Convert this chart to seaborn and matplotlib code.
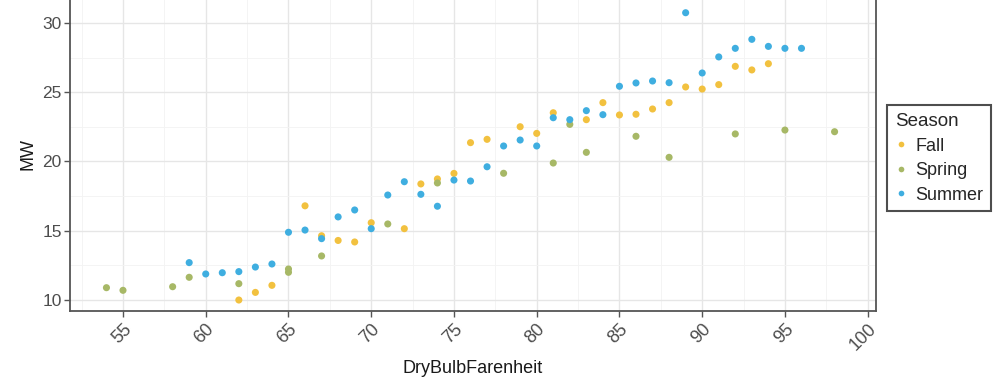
import matplotlib
matplotlib.use("Agg")
import matplotlib.pyplot as plt
import seaborn as sns
import pandas as pd
import numpy as np
from matplotlib.ticker import MultipleLocator

# Hourly load (MW) against dry-bulb temperature, grouped by season
fall_temp = [62, 63, 64, 66, 67, 68, 69, 70, 72, 73, 74, 75, 76, 77, 79, 80,
             81, 83, 84, 85, 86, 87, 88, 89, 90, 91, 92, 93, 94]
fall_mw = [10.0, 10.55, 11.06, 16.8, 14.64, 14.3, 14.19, 15.58, 15.15, 18.38,
           18.74, 19.14, 21.36, 21.6, 22.51, 22.03, 23.52, 23.02, 24.25, 23.36,
           23.41, 23.79, 24.25, 25.38, 25.23, 25.55, 26.87, 26.61, 27.06]

spring_temp = [54, 55, 58, 59, 62, 65, 65, 67, 71, 74, 78, 81, 82, 83, 86, 88,
               92, 95, 98]
spring_mw = [10.89, 10.7, 10.96, 11.64, 11.18, 12.24, 12.0, 13.18, 15.49, 18.45,
             19.15, 19.89, 22.68, 20.66, 21.82, 20.3, 21.99, 22.27, 22.15]

summer_temp = [59, 60, 61, 62, 63, 64, 65, 66, 67, 68, 69, 70, 71, 72, 73, 74,
               75, 76, 77, 78, 79, 80, 81, 82, 83, 84, 85, 86, 87, 88, 89, 90,
               91, 92, 93, 94, 95, 96]
summer_mw = [12.7, 11.88, 11.97, 12.05, 12.38, 12.6, 14.89, 15.05, 14.43, 16.0,
             16.5, 15.15, 17.58, 18.54, 17.63, 16.77, 18.66, 18.59, 19.62, 21.12,
             21.55, 21.12, 23.16, 23.02, 23.67, 23.38, 25.43, 25.67, 25.81, 25.69,
             30.74, 26.39, 27.55, 28.17, 28.82, 28.31, 28.17, 28.17]

seasons = ["Fall", "Spring", "Summer"]
season_colors = ["#F2C13F", "#A7B866", "#3FAEE0"]

df = pd.concat([
    pd.DataFrame({"DryBulbFarenheit": fall_temp, "MW": fall_mw, "Season": "Fall"}),
    pd.DataFrame({"DryBulbFarenheit": spring_temp, "MW": spring_mw, "Season": "Spring"}),
    pd.DataFrame({"DryBulbFarenheit": summer_temp, "MW": summer_mw, "Season": "Summer"}),
], ignore_index=True)

sns.set_theme(style="white")
plt.rcParams["font.family"] = ["Liberation Sans", "DejaVu Sans"]

fig = plt.figure(figsize=(10.02, 3.78), dpi=100)
ax = fig.add_axes([0.0699, 0.177, 0.8043, 0.830])

sns.scatterplot(data=df, x="DryBulbFarenheit", y="MW", hue="Season",
                hue_order=seasons, palette=season_colors, s=26,
                linewidth=0, ax=ax, zorder=3)

ax.set_xlim(51.8, 100.5)
ax.set_ylim(9.2, 31.85)
ax.xaxis.set_major_locator(MultipleLocator(5))
ax.xaxis.set_minor_locator(MultipleLocator(2.5))
ax.yaxis.set_major_locator(MultipleLocator(5))
ax.yaxis.set_minor_locator(MultipleLocator(2.5))

ax.grid(which="major", color="#E6E6E6", linewidth=1.0, zorder=0)
ax.grid(which="minor", color="#F3F3F3", linewidth=0.6, zorder=0)
ax.set_axisbelow(True)

for side, sp in ax.spines.items():
    sp.set_color("#555555")
    sp.set_linewidth(1.3)

ax.tick_params(axis="both", which="major", direction="out", length=4,
               width=1.0, color="#555555", labelcolor="#4D4D4D",
               labelsize=12.5, pad=2, bottom=True, left=True)
ax.tick_params(axis="x", which="major", pad=3)
ax.tick_params(which="minor", length=0)
for lbl in ax.get_xticklabels():
    lbl.set_rotation(45)
    lbl.set_ha("right")
    lbl.set_rotation_mode("anchor")
    lbl.set_fontsize(13)

ax.set_xlabel("DryBulbFarenheit", fontsize=13, color="#1A1A1A", labelpad=4)
ax.set_ylabel("MW", fontsize=13, color="#1A1A1A", labelpad=4)

leg = ax.legend(title="Season", loc="center left", bbox_to_anchor=(1.014, 0.487),
                frameon=True, fancybox=False, fontsize=13, title_fontsize=13.5,
                markerscale=0.8, handlelength=0.7, handletextpad=0.45,
                borderpad=0.42, borderaxespad=0.0,
                labelspacing=0.42, alignment="left")
leg.get_frame().set_edgecolor("#222222")
leg.get_frame().set_linewidth(1.5)

fig.savefig("out.png", dpi=100)
